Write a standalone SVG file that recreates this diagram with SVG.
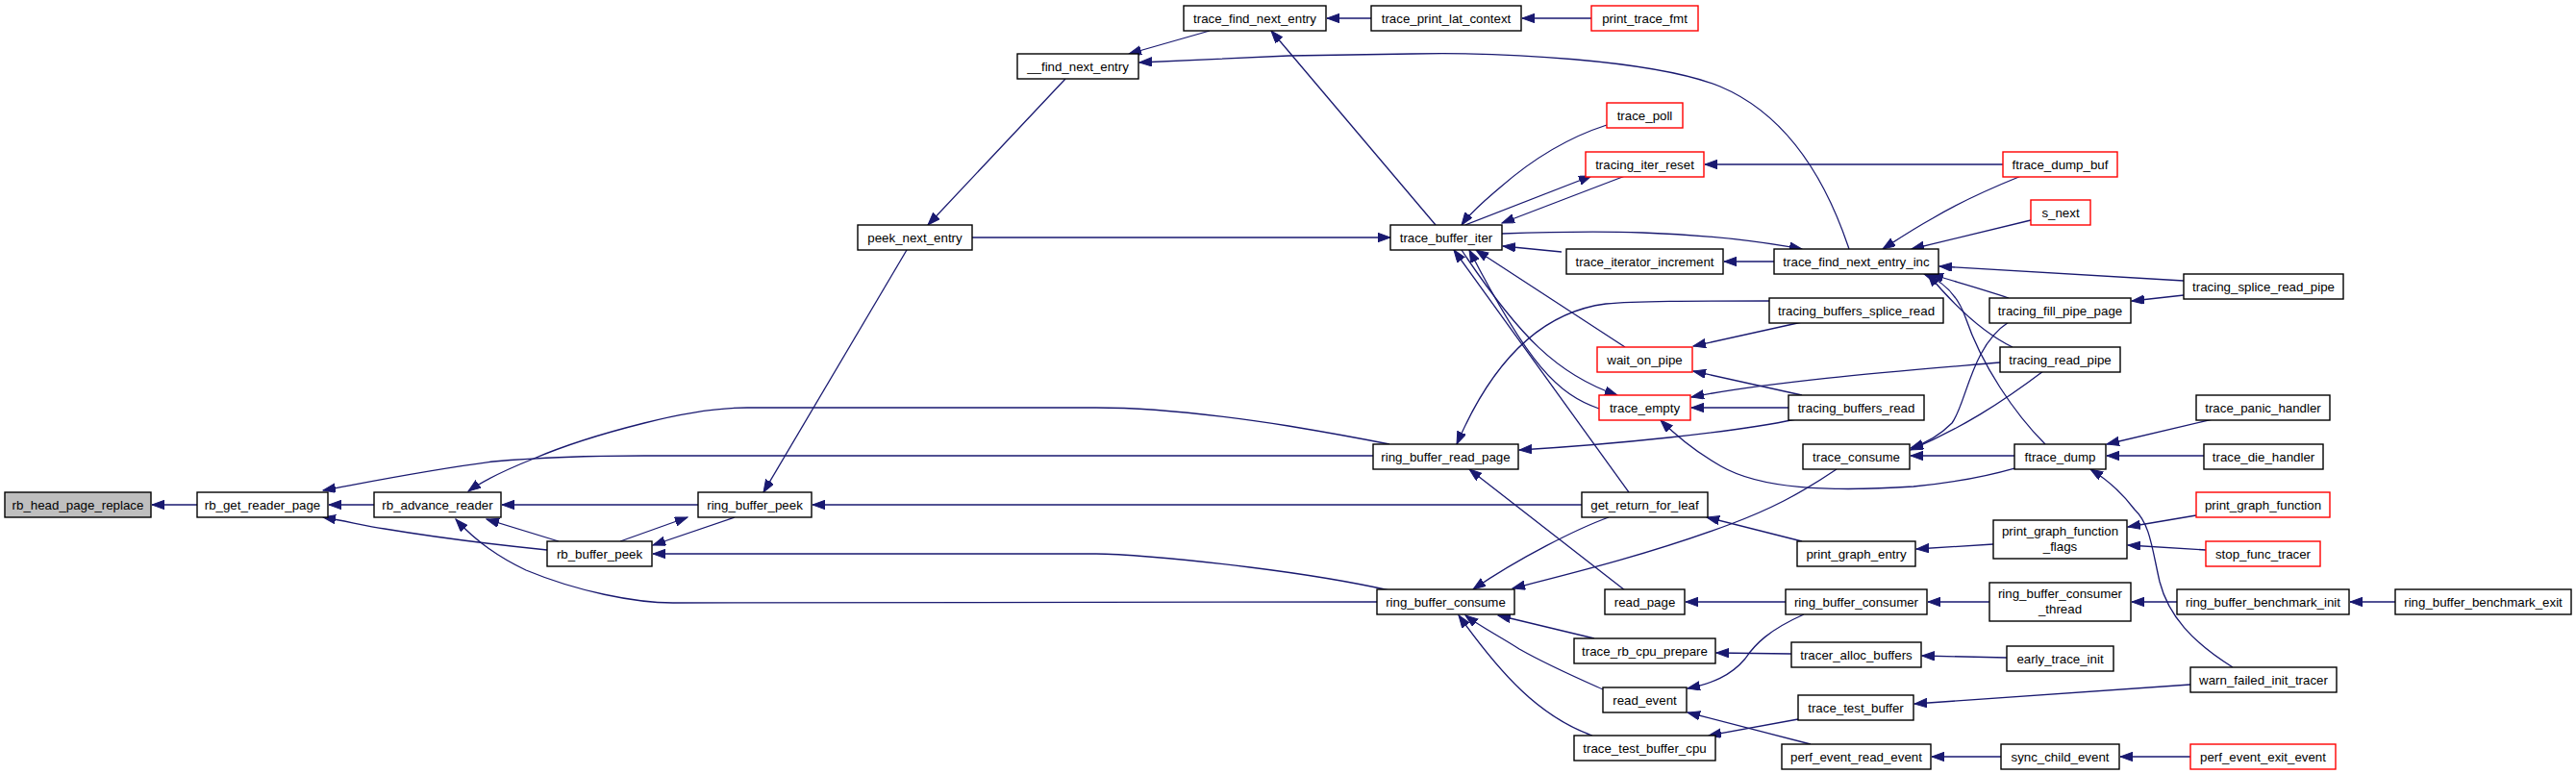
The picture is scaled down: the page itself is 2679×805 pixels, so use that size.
<svg xmlns="http://www.w3.org/2000/svg" width="2679" height="805" viewBox="0 0 2679 805">
<style>
.n rect{fill:#fff;stroke:#000;stroke-width:1.4}
.n.r rect{stroke:#ff0000}
.n.g rect{fill:#bfbfbf}
.n text{font-family:"Liberation Sans",Arial,sans-serif;font-size:13.3px;fill:#000;text-anchor:middle}
#edges path{fill:none;stroke:#191970;stroke-width:1.3;marker-end:url(#ah)}
</style>
<defs>
<marker id="ah" markerUnits="userSpaceOnUse" markerWidth="14" markerHeight="10" refX="13" refY="4.7" orient="auto">
<path d="M0,0 L13,4.7 L0,9.4 z" fill="#191970" stroke="#191970" stroke-width="1"/>
</marker>
</defs>
<rect width="2679" height="805" fill="#fff"/>
<g id="edges">
<path d="M205,525 L158,525"/>
<path d="M389,525 L342,525"/>
<path d="M1428,474 L670,474 C600,474 560,476 513,480 C450,488 390,500 336,510"/>
<path d="M569,572 C520,567 460,560 400,550 C380,547 360,542 336,538"/>
<path d="M581,563 L506,540"/>
<path d="M1432,626 L700,627 C660,627 600,615 547,593 C515,578 492,560 474,540"/>
<path d="M726,525 L522,525"/>
<path d="M645,563 L715,538"/>
<path d="M764,538 L679,567"/>
<path d="M1445,614 C1400,604 1340,595 1300,590 C1220,580 1160,576 1140,576 L679,576"/>
<path d="M943,260 L794,512"/>
<path d="M1645,525 L845,525"/>
<path d="M1445,462 C1410,455 1370,448 1340,443 C1270,432 1200,424 1140,424 L777,424 C740,424 705,431 670,440 C630,450 590,462 555,477 C530,487 505,498 487,511"/>
<path d="M1108,82 L965,234"/>
<path d="M1011,247 L1446,247"/>
<path d="M1258,32 L1174,56"/>
<path d="M1923,259 C1900,190 1860,120 1789,90 C1720,62 1560,54 1468,56 C1420,57 1380,57 1340,58 L1185,65"/>
<path d="M1493,234 L1322,32"/>
<path d="M1426,19 L1380,19"/>
<path d="M1655,19 L1583,19"/>
<path d="M1671,130 C1640,140 1600,160 1560,195 C1545,208 1530,220 1520,234"/>
<path d="M1524,234 L1655,183"/>
<path d="M1690,183 L1562,232"/>
<path d="M2083,171 L1773,171"/>
<path d="M2102,183 C2065,198 2035,212 2010,227 C1990,238 1975,248 1958,259"/>
<path d="M2112,229 L1988,259"/>
<path d="M1562,243 C1650,240 1760,238 1874,259"/>
<path d="M1845,272 L1793,272"/>
<path d="M1624,262 L1563,256"/>
<path d="M2271,292 L2017,277"/>
<path d="M2271,307 L2217,313"/>
<path d="M2089,310 C2060,300 2030,292 2008,285"/>
<path d="M2093,361 C2060,345 2030,315 2005,285"/>
<path d="M2127,462 C2095,430 2061,380 2044,330 C2035,305 2020,292 2001,285"/>
<path d="M1840,313 C1760,313 1700,313 1670,316 C1600,325 1550,380 1515,462"/>
<path d="M1874,335 L1761,360"/>
<path d="M1690,361 L1535,260"/>
<path d="M1874,411 L1761,386"/>
<path d="M1860,424 L1759,424"/>
<path d="M2080,377 C2000,384 1850,395 1759,413"/>
<path d="M2095,487 C2060,497 2020,503 1990,506 C1900,512 1830,508 1790,485 C1760,468 1740,450 1727,437"/>
<path d="M1663,425 C1620,410 1590,380 1528,260"/>
<path d="M1520,260 C1580,350 1620,390 1682,411"/>
<path d="M1694,512 L1512,260"/>
<path d="M1868,436 C1800,450 1680,462 1580,468"/>
<path d="M1690,614 L1528,488"/>
<path d="M2095,474 L1987,474"/>
<path d="M2089,335 C2050,360 2045,420 2030,440 C2015,455 2000,462 1987,466"/>
<path d="M2125,386 C2080,420 2040,445 1987,468"/>
<path d="M1910,488 C1870,515 1840,530 1800,545 C1720,575 1640,595 1573,612"/>
<path d="M1673,538 C1640,550 1580,580 1532,613"/>
<path d="M1874,563 L1775,538"/>
<path d="M2073,566 L1993,571"/>
<path d="M2284,536 L2213,548"/>
<path d="M2294,572 L2213,567"/>
<path d="M2322,694 C2280,668 2255,640 2246,605 C2238,570 2236,545 2220,530 C2205,510 2190,498 2174,488"/>
<path d="M2301,436 L2191,462"/>
<path d="M2292,474 L2191,474"/>
<path d="M1857,626 L1753,626"/>
<path d="M2069,626 L2005,626"/>
<path d="M2264,626 L2217,626"/>
<path d="M2491,626 L2444,626"/>
<path d="M1876,639 C1840,655 1825,670 1815,685 C1800,703 1780,711 1755,716"/>
<path d="M1658,664 L1558,640"/>
<path d="M1863,680 L1785,679"/>
<path d="M2087,684 L1999,682"/>
<path d="M1667,717 C1640,705 1610,692 1580,675 C1560,662 1540,652 1524,640"/>
<path d="M1656,765 C1600,745 1560,700 1517,640"/>
<path d="M1870,748 L1777,765"/>
<path d="M1883,774 L1755,741"/>
<path d="M2278,712 L1991,732"/>
<path d="M2081,787 L2009,787"/>
<path d="M2278,787 L2205,787"/>
</g>
<g id="n1" class="n g"><rect x="5" y="512" width="152" height="26"/><text x="81" y="530">rb_head_page_replace</text></g>
<g id="n2" class="n"><rect x="205" y="512" width="136" height="26"/><text x="273" y="530">rb_get_reader_page</text></g>
<g id="n3" class="n"><rect x="389" y="512" width="132" height="26"/><text x="455" y="530">rb_advance_reader</text></g>
<g id="n4" class="n"><rect x="569" y="563" width="109" height="26"/><text x="623.5" y="581">rb_buffer_peek</text></g>
<g id="n5" class="n"><rect x="726" y="512" width="118" height="26"/><text x="785" y="530">ring_buffer_peek</text></g>
<g id="n6" class="n"><rect x="892" y="234" width="119" height="26"/><text x="951.5" y="252">peek_next_entry</text></g>
<g id="n7" class="n"><rect x="1058" y="56" width="126" height="26"/><text x="1121" y="74">__find_next_entry</text></g>
<g id="n8" class="n"><rect x="1231" y="6" width="148" height="26"/><text x="1305" y="24">trace_find_next_entry</text></g>
<g id="n9" class="n"><rect x="1426" y="6" width="156" height="26"/><text x="1504" y="24">trace_print_lat_context</text></g>
<g id="n10" class="n r"><rect x="1655" y="6" width="111" height="26"/><text x="1710.5" y="24">print_trace_fmt</text></g>
<g id="n11" class="n"><rect x="1446" y="234" width="116" height="26"/><text x="1504" y="252">trace_buffer_iter</text></g>
<g id="n12" class="n r"><rect x="1671" y="107" width="79" height="26"/><text x="1710.5" y="125">trace_poll</text></g>
<g id="n13" class="n r"><rect x="1649" y="158" width="123" height="26"/><text x="1710.5" y="176">tracing_iter_reset</text></g>
<g id="n14" class="n r"><rect x="2083" y="158" width="119" height="26"/><text x="2142.5" y="176">ftrace_dump_buf</text></g>
<g id="n15" class="n r"><rect x="2112" y="208" width="62" height="26"/><text x="2143" y="226">s_next</text></g>
<g id="n16" class="n"><rect x="1629" y="259" width="163" height="26"/><text x="1710.5" y="277">trace_iterator_increment</text></g>
<g id="n17" class="n"><rect x="1845" y="259" width="171" height="26"/><text x="1930.5" y="277">trace_find_next_entry_inc</text></g>
<g id="n18" class="n"><rect x="2271" y="285" width="166" height="26"/><text x="2354" y="303">tracing_splice_read_pipe</text></g>
<g id="n19" class="n"><rect x="2069" y="310" width="147" height="26"/><text x="2142.5" y="328">tracing_fill_pipe_page</text></g>
<g id="n20" class="n"><rect x="1840" y="310" width="181" height="26"/><text x="1930.5" y="328">tracing_buffers_splice_read</text></g>
<g id="n21" class="n r"><rect x="1661" y="361" width="99" height="26"/><text x="1710.5" y="379">wait_on_pipe</text></g>
<g id="n22" class="n"><rect x="2080" y="361" width="125" height="26"/><text x="2142.5" y="379">tracing_read_pipe</text></g>
<g id="n23" class="n r"><rect x="1663" y="411" width="95" height="26"/><text x="1710.5" y="429">trace_empty</text></g>
<g id="n24" class="n"><rect x="1860" y="411" width="141" height="26"/><text x="1930.5" y="429">tracing_buffers_read</text></g>
<g id="n25" class="n"><rect x="2284" y="411" width="139" height="26"/><text x="2353.5" y="429">trace_panic_handler</text></g>
<g id="n26" class="n"><rect x="1428" y="462" width="151" height="26"/><text x="1503.5" y="480">ring_buffer_read_page</text></g>
<g id="n27" class="n"><rect x="1875" y="462" width="111" height="26"/><text x="1930.5" y="480">trace_consume</text></g>
<g id="n28" class="n"><rect x="2095" y="462" width="95" height="26"/><text x="2142.5" y="480">ftrace_dump</text></g>
<g id="n29" class="n"><rect x="2292" y="462" width="124" height="26"/><text x="2354" y="480">trace_die_handler</text></g>
<g id="n30" class="n"><rect x="1645" y="512" width="131" height="26"/><text x="1710.5" y="530">get_return_for_leaf</text></g>
<g id="n31" class="n r"><rect x="2284" y="512" width="139" height="26"/><text x="2353.5" y="530">print_graph_function</text></g>
<g id="n32" class="n"><rect x="1869" y="563" width="123" height="26"/><text x="1930.5" y="581">print_graph_entry</text></g>
<g id="n33" class="n"><rect x="2073" y="541" width="139" height="40"/><text x="2142.5" y="557">print_graph_function</text><text x="2142.5" y="573">_flags</text></g>
<g id="n34" class="n r"><rect x="2294" y="563" width="119" height="26"/><text x="2353.5" y="581">stop_func_tracer</text></g>
<g id="n35" class="n"><rect x="1432" y="613" width="143" height="26"/><text x="1503.5" y="631">ring_buffer_consume</text></g>
<g id="n36" class="n"><rect x="1669" y="613" width="83" height="26"/><text x="1710.5" y="631">read_page</text></g>
<g id="n37" class="n"><rect x="1857" y="613" width="147" height="26"/><text x="1930.5" y="631">ring_buffer_consumer</text></g>
<g id="n38" class="n"><rect x="2069" y="606" width="147" height="40"/><text x="2142.5" y="622">ring_buffer_consumer</text><text x="2142.5" y="638">_thread</text></g>
<g id="n39" class="n"><rect x="2264" y="613" width="179" height="26"/><text x="2353.5" y="631">ring_buffer_benchmark_init</text></g>
<g id="n40" class="n"><rect x="2491" y="613" width="183" height="26"/><text x="2582.5" y="631">ring_buffer_benchmark_exit</text></g>
<g id="n41" class="n"><rect x="1637" y="664" width="147" height="26"/><text x="1710.5" y="682">trace_rb_cpu_prepare</text></g>
<g id="n42" class="n"><rect x="1863" y="668" width="135" height="26"/><text x="1930.5" y="686">tracer_alloc_buffers</text></g>
<g id="n43" class="n"><rect x="2087" y="672" width="111" height="26"/><text x="2142.5" y="690">early_trace_init</text></g>
<g id="n44" class="n"><rect x="1667" y="715" width="87" height="26"/><text x="1710.5" y="733">read_event</text></g>
<g id="n45" class="n"><rect x="1870" y="723" width="120" height="26"/><text x="1930" y="741">trace_test_buffer</text></g>
<g id="n46" class="n"><rect x="2278" y="694" width="152" height="26"/><text x="2354" y="712">warn_failed_init_tracer</text></g>
<g id="n47" class="n"><rect x="1637" y="765" width="147" height="26"/><text x="1710.5" y="783">trace_test_buffer_cpu</text></g>
<g id="n48" class="n"><rect x="1853" y="774" width="155" height="26"/><text x="1930.5" y="792">perf_event_read_event</text></g>
<g id="n49" class="n"><rect x="2081" y="774" width="123" height="26"/><text x="2142.5" y="792">sync_child_event</text></g>
<g id="n50" class="n r"><rect x="2278" y="774" width="151" height="26"/><text x="2353.5" y="792">perf_event_exit_event</text></g>
</svg>
